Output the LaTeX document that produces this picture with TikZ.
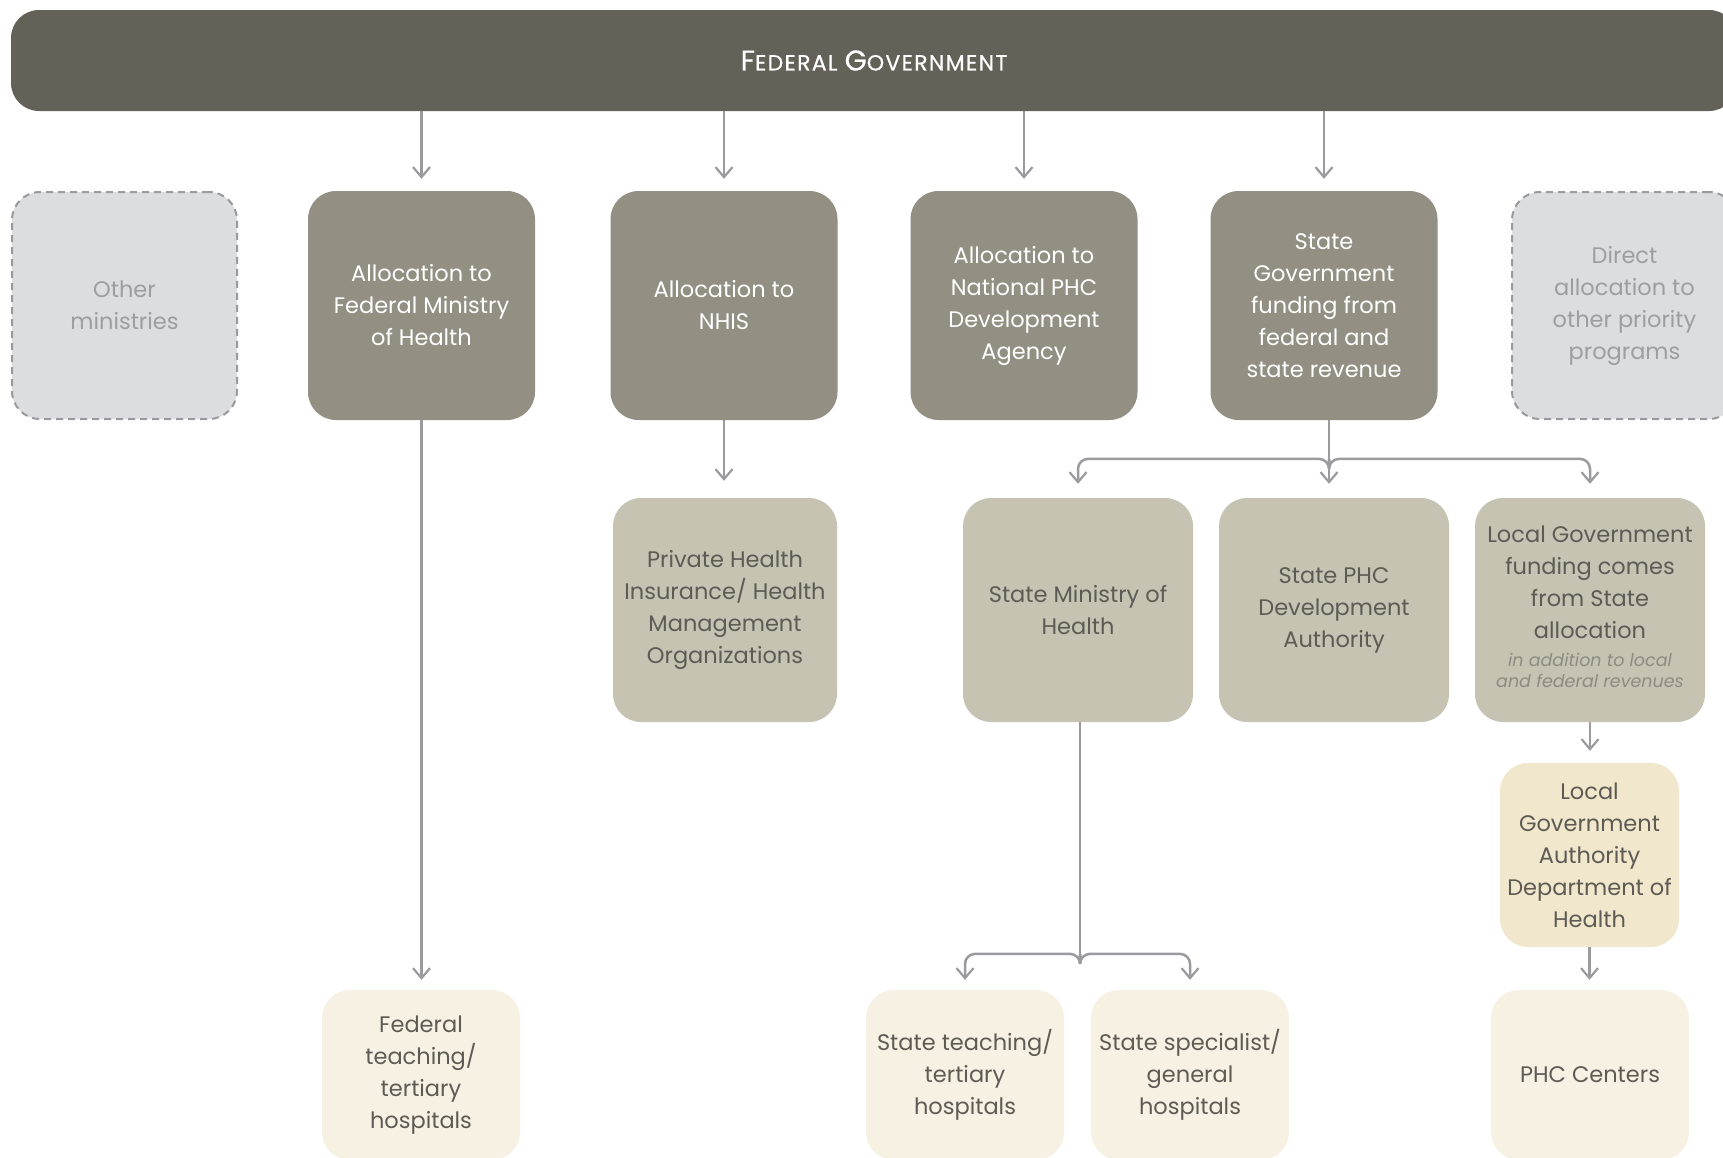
\documentclass[tikz,border=0pt]{standalone}
\usepackage{fontspec}
\setmainfont{Poppins}
\usetikzlibrary{arrows.meta}
\definecolor{barc}{HTML}{646158}
\definecolor{topc}{HTML}{948F83}
\definecolor{midc}{HTML}{C6C3B3}
\definecolor{lgac}{HTML}{F1E7CC}
\definecolor{botc}{HTML}{F6F1E3}
\definecolor{dashfill}{HTML}{DCDDDF}
\definecolor{dashline}{HTML}{9A9A9E}
\definecolor{dashtext}{HTML}{9C9EA2}
\definecolor{arrc}{HTML}{9A9A9F}
\definecolor{txtc}{HTML}{5E5B54}
\definecolor{itc}{HTML}{8E8B82}
\tikzset{
  box/.style={rounded corners=28pt, inner sep=0pt, align=center,
    font=\fontsize{22.5}{32}\selectfont},
  topbox/.style={box, fill=topc, text=white, minimum width=227pt, minimum height=229pt},
  dashbox/.style={box, fill=dashfill, draw=dashline, line width=2pt,
    dash pattern=on 7pt off 5pt, text=dashtext, minimum width=225pt, minimum height=227pt},
  midbox/.style={box, fill=midc, text=txtc, minimum width=230pt, minimum height=224pt},
  lgabox/.style={box, fill=lgac, text=txtc, minimum width=179pt, minimum height=184pt},
  botbox/.style={box, fill=botc, text=txtc, minimum width=198pt, minimum height=170pt},
  arr/.style={draw=arrc, line width=2.5pt,
    -{Straight Barb[length=10pt,width=17pt,line width=2.2pt]}},
  conn/.style={draw=arrc, line width=2.5pt}
}
\begin{document}
\begin{tikzpicture}[x=1pt,y=-1pt]
\useasboundingbox (0,0) rectangle (1723,1157);
\clip (0,0) rectangle (1723,1157);
% top bar
\node[box, fill=barc, text=white, minimum width=1726pt, minimum height=101pt] (fg) at (874,60.5)
  {\addfontfeature{LetterSpace=6,FakeBold=0.6}\fontsize{28.5}{28}\selectfont F\fontsize{22}{28}\selectfont EDERAL\ \fontsize{28.5}{28}\selectfont G\fontsize{22}{28}\selectfont OVERNMENT};
% top row
\node[dashbox] (other) at (124.5,305.5) {Other\\ministries};
\node[topbox] (fmoh) at (421.5,305.5) {Allocation to\\Federal Ministry\\of Health};
\node[topbox] (nhis) at (724,305.5) {Allocation to\\NHIS};
\node[topbox] (nphc) at (1024,305.5) {Allocation to\\National PHC\\Development\\Agency};
\node[topbox] (stgov) at (1324,305.5) {State\\Government\\funding from\\federal and\\state revenue};
\node[dashbox] (direct) at (1624.5,305.5) {Direct\\allocation to\\other priority\\programs};
% second row
\node[midbox, minimum width=224pt] (phi) at (725,610) {Private Health\\Insurance/ Health\\Management\\Organizations};
\node[midbox] (smoh) at (1078,610) {State Ministry of\\Health};
\node[midbox] (sphc) at (1334,610) {State PHC\\Development\\Authority};
\node[midbox] (lgf) at (1590,610) {Local Government\\funding comes\\from State\\allocation\\[-4pt]{\color{itc}\itshape\fontsize{17.5}{21.5}\selectfont\begin{tabular}[t]{@{}c@{}}in addition to local\\and federal revenues\end{tabular}}};
% third
\node[lgabox] (lga) at (1589.5,855) {Local\\Government\\Authority\\Department of\\Health};
% bottom row
\node[botbox] (fth) at (421,1075) {Federal\\teaching/\\tertiary\\hospitals};
\node[botbox] (sth) at (965,1075) {State teaching/\\tertiary\\hospitals};
\node[botbox] (ssh) at (1190,1075) {State specialist/\\general\\hospitals};
\node[botbox] (phc) at (1590,1075) {PHC Centers};
% arrows from federal government
\foreach \n in {fmoh,nhis,nphc,stgov}
  \draw[arr] (fg.south -| \n.north) -- ([yshift=12pt]\n.north);
% NHIS
\draw[arr] (nhis.south) -- ([yshift=17pt]phi.north -| nhis.south);
% FMOH
\draw[arr] (fmoh.south) -- ([yshift=10pt]fth.north -| fmoh.south);
% state government branches
\coordinate (sj) at (1329,459);
\draw[conn] (stgov.south -| sj) -- (sj);
\draw[arr, rounded corners=10pt] (sj) -- ++(0,-0.1) -| ([yshift=14pt]smoh.north);
\draw[arr, rounded corners=10pt] (sj) -- ++(0,-0.1) -| ([yshift=14pt]lgf.north);
\draw[arr] (sj) -- ([yshift=14pt]sphc.north -| sj);
% state ministry branches
\coordinate (mj) at (1080,954);
\draw[conn] (smoh.south -| mj) -- (mj);
\draw[arr, rounded corners=10pt] (mj) -- ++(0,-0.1) -| ([yshift=10pt]sth.north);
\draw[arr, rounded corners=10pt] (mj) -- ++(0,-0.1) -| ([yshift=10pt]ssh.north);
% local chain
\draw[arr] (lgf.south) -- ([yshift=12pt]lga.north -| lgf.south);
\draw[arr] (lga.south) -- ([yshift=10pt]phc.north -| lga.south);
\end{tikzpicture}
\end{document}
